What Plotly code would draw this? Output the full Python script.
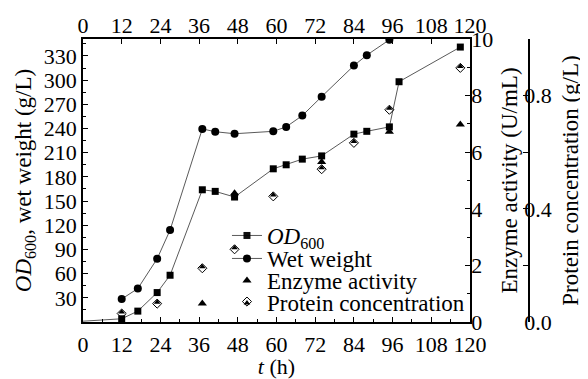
import plotly.graph_objects as go

# ---------------- data ----------------
t_od = [0, 12, 17, 23, 27, 37, 41, 47, 59, 63, 68, 74, 84, 88, 95, 98, 117]
od600 = [1, 4, 13.5, 36.5, 58, 164, 162, 155, 190, 195, 202, 206, 233, 236.5, 242, 298, 341]

t_ww = [12, 17, 23, 27, 37, 41, 47, 59, 63, 68, 74, 84, 88, 95]
wet_weight = [28.5, 41.5, 78.5, 114, 239.5, 236, 233.5, 236.5, 242, 256, 279.5, 318, 331, 350]

t_ea = [37, 47, 74, 95, 117]
enzyme_activity = [0.65, 4.55, 5.65, 6.72, 6.98]

t_pc = [12, 23, 37, 47, 59, 74, 84, 95, 117]
protein_conc = [0.03, 0.065, 0.19, 0.257, 0.444, 0.54, 0.633, 0.75, 0.898]

x_ticks = [0, 12, 24, 36, 48, 60, 72, 84, 96, 108, 120]
left_ticks = [30, 60, 90, 120, 150, 180, 210, 240, 270, 300, 330]
enzyme_ticks = [0, 2, 4, 6, 8, 10]
protein_ticks = [0.0, 0.4, 0.8]
protein_ticktext = ["0.0", "0.4", "0.8"]

names = ["<i>OD</i><sub>600</sub>", "Wet weight", "Enzyme activity", "Protein concentration"]

# ---------------- styling ----------------
FONT = "Liberation Serif, Times New Roman, serif"
LINE = "#5a5a5a"
AX = dict(showline=True, linecolor="black", linewidth=1.5, ticks="inside",
          tickcolor="black", tickwidth=1.2, ticklen=5, showgrid=False, zeroline=False,
          automargin=False)

fig = go.Figure()

fig.add_trace(go.Scatter(
    x=t_od, y=od600, mode="lines+markers", name=names[0], legend="legend",
    line=dict(color=LINE, width=1),
    marker=dict(symbol="square", color="black", size=7,
                opacity=[0] + [1] * (len(t_od) - 1))))

fig.add_trace(go.Scatter(
    x=t_ww, y=wet_weight, mode="lines+markers", name=names[1], legend="legend2",
    line=dict(color=LINE, width=1),
    marker=dict(symbol="circle", color="black", size=8)))

fig.add_trace(go.Scatter(
    x=t_ea, y=enzyme_activity, mode="markers", name=names[2], legend="legend3",
    xaxis="x2", yaxis="y2",
    marker=dict(symbol="triangle-up", color="black", size=8)))

fig.add_trace(go.Scatter(
    x=t_pc, y=protein_conc, mode="markers", name=names[3], legend="legend4", yaxis="y3",
    marker=dict(symbol="diamond-open", color="black", size=7, line=dict(width=1, color="black"))))

# top half of the protein diamonds filled
fig.add_trace(go.Scatter(
    x=t_pc, y=protein_conc, mode="markers", name=" ", legend="legend5", yaxis="y3",
    marker=dict(symbol="triangle-down", angle=180, standoff=1.4, color="black", size=5.8,
                line=dict(width=0))))

leg_x = 0.3228
leg_common = dict(x=leg_x, xanchor="left", yanchor="middle", bgcolor="rgba(0,0,0,0)",
                  borderwidth=0, itemwidth=30, font=dict(family=FONT, size=23, color="black"))

# the page body adds an 8 px offset, so the figure is 8 px smaller on each axis
fig.update_layout(
    width=580, height=371,
    margin=dict(l=75, r=59, t=31, b=57, autoexpand=False),
    paper_bgcolor="white", plot_bgcolor="white",
    font=dict(family=FONT, size=22, color="black"),
    showlegend=True,
    xaxis=dict(domain=[0, 0.8677], range=[0, 120], tickvals=x_ticks, **AX,
               minor=dict(dtick=6, ticks="inside", ticklen=3, tickcolor="black"),
               ticklabelstandoff=2,
               title=dict(text="<i>t</i> (h)", standoff=15, font=dict(size=22))),
    xaxis2=dict(overlaying="x", side="top", anchor="y2", range=[0, 120], tickvals=x_ticks, **AX,
                ticklabelstandoff=-5),
    yaxis=dict(range=[0, 351], tickvals=left_ticks, **AX,
               minor=dict(dtick=15, ticks="inside", ticklen=3, tickcolor="black"),
               ticklabelstandoff=0,
               title=dict(text="<i>OD</i><sub>600</sub>, wet weight (g/L)", standoff=6,
                          font=dict(size=23))),
    yaxis2=dict(overlaying="y", side="right", anchor="x", range=[0, 10], tickvals=enzyme_ticks, **AX,
                minor=dict(dtick=1, ticks="inside", ticklen=3, tickcolor="black"),
                ticklabelstandoff=-5,
                title=dict(text="Enzyme activity (U/mL)", standoff=9, font=dict(size=23))),
    yaxis3=dict(overlaying="y", side="right", anchor="free", position=1.0, range=[0, 1.0],
                tickvals=protein_ticks, ticktext=protein_ticktext, **AX,
                minor=dict(dtick=0.2, ticks="inside", ticklen=5, tickcolor="black"),
                ticklabelstandoff=-10,
                title=dict(text="Protein concentration (g/L)", standoff=10, font=dict(size=23))),
    legend=dict(y=0.3056, **leg_common),
    legend2=dict(y=0.2244, **leg_common),
    legend3=dict(y=0.1466, **leg_common),
    legend4=dict(y=0.0720, **leg_common),
    legend5=dict(y=0.0720, **leg_common),
)

fig.write_html("out.html")
